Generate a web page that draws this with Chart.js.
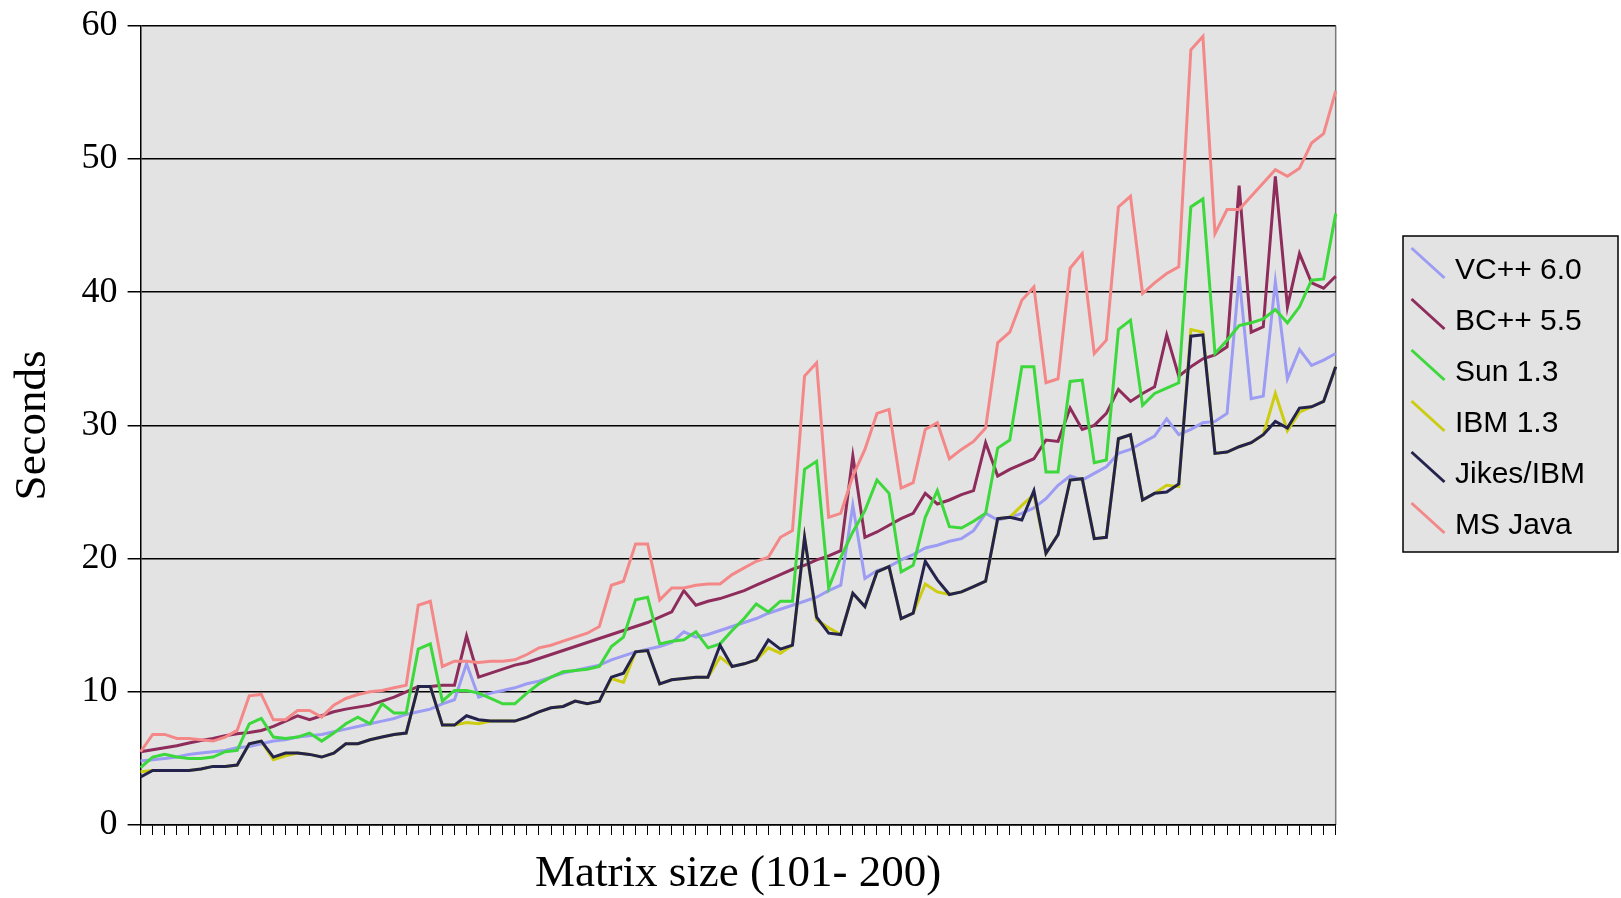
<!DOCTYPE html>
<html>
<head>
<meta charset="utf-8">
<script src="https://cdn.jsdelivr.net/npm/chart.js@4.4.1/dist/chart.umd.min.js"></script>
<style>
html,body{margin:0;padding:0;background:#ffffff;}
#wrap{position:relative;width:1621px;height:898px;}
</style>
</head>
<body>
<div id="wrap"><canvas id="c"></canvas></div>
<script>
// ---- categories (matrix size) ----
const matrixSizes = [101,102,103,104,105,106,107,108,109,110,111,112,113,114,115,116,117,118,119,120,
  121,122,123,124,125,126,127,128,129,130,131,132,133,134,135,136,137,138,139,140,
  141,142,143,144,145,146,147,148,149,150,151,152,153,154,155,156,157,158,159,160,
  161,162,163,164,165,166,167,168,169,170,171,172,173,174,175,176,177,178,179,180,
  181,182,183,184,185,186,187,188,189,190,191,192,193,194,195,196,197,198,199,200];

// ---- series values (seconds) ----
const vcpp60 = [4.8,4.9,5.0,5.1,5.3,5.4,5.5,5.6,5.8,5.9,6.1,6.3,6.4,6.6,6.7,6.8,7.0,7.2,7.4,7.6,7.8,8.0,8.3,8.5,8.7,9.1,
  9.4,12.1,9.6,9.9,10.1,10.3,10.6,10.8,11.1,11.4,11.6,11.8,12.0,12.4,12.7,13.0,13.2,13.4,13.7,14.5,14.1,14.3,14.6,14.9,15.2,15.5,15.9,16.2,
  16.5,16.8,17.1,17.6,18.0,24.0,18.5,19.1,19.4,19.9,20.3,20.8,21.0,21.3,21.5,22.1,23.4,22.9,23.1,23.4,23.8,24.5,25.5,26.2,
  25.9,26.4,26.9,27.9,28.2,28.7,29.2,30.5,29.3,29.7,30.2,30.3,30.9,41.2,32.0,32.2,40.8,33.5,35.7,34.5,34.9,35.4];
const bcpp55 = [5.5,5.65,5.8,5.95,6.15,6.35,6.5,6.7,6.85,6.95,7.1,7.4,7.8,8.2,7.9,8.2,8.5,8.7,8.85,9.0,9.3,9.6,10.0,10.4,10.4,10.5,
  10.5,14.2,11.1,11.4,11.7,12.0,12.2,12.5,12.8,13.1,13.4,13.7,14.0,14.3,14.6,14.9,15.2,15.6,16.0,17.6,16.5,16.8,17.0,17.3,17.6,18.0,18.4,18.8,
  19.2,19.5,19.9,20.2,20.6,27.7,21.6,22.0,22.5,23.0,23.4,24.9,24.1,24.4,24.8,25.1,28.7,26.2,26.7,27.1,27.5,28.9,28.8,31.3,
  29.7,30.0,30.9,32.7,31.8,32.4,32.9,36.8,33.7,34.4,35.0,35.3,35.9,48.0,37.0,37.4,48.7,38.9,42.9,40.7,40.3,41.2];
const sun13 = [4.3,5.1,5.3,5.1,5.0,5.0,5.1,5.5,5.6,7.6,8.0,6.6,6.5,6.6,6.9,6.3,6.9,7.6,8.1,7.6,9.1,8.4,8.4,13.2,13.6,9.3,
  10.1,10.1,9.9,9.5,9.1,9.1,9.9,10.6,11.1,11.5,11.6,11.7,11.9,13.4,14.1,16.9,17.1,13.6,13.8,13.9,14.5,13.3,13.6,14.6,15.5,16.6,16.0,16.8,
  16.8,26.7,27.3,17.8,20.1,22.0,23.6,25.9,24.9,19.0,19.5,23.1,25.1,22.4,22.3,22.8,23.4,28.3,28.9,34.4,34.4,26.5,26.5,33.3,
  33.4,27.2,27.4,37.2,37.9,31.5,32.4,32.8,33.2,46.4,47.0,35.4,36.4,37.5,37.7,38.0,38.7,37.7,38.9,40.9,41.0,45.9];
const ibm13 = [4.0,4.1,4.1,4.1,4.1,4.2,4.4,4.4,4.5,6.1,6.3,4.9,5.2,5.4,5.3,5.1,5.4,6.1,6.1,6.4,6.6,6.8,6.9,10.4,10.4,7.5,
  7.5,7.7,7.6,7.8,7.8,7.8,8.1,8.5,8.8,8.9,9.3,9.1,9.3,11.0,10.7,13.0,13.1,10.6,10.9,11.0,11.1,11.1,12.6,11.9,12.1,12.4,13.3,12.9,
  13.5,21.6,15.4,14.8,14.3,17.4,16.4,19.0,19.4,15.5,15.9,18.1,17.5,17.3,17.5,17.9,18.3,23.0,23.1,24.0,24.8,20.4,21.8,25.9,
  26.0,21.5,21.6,29.0,29.3,24.4,24.9,25.5,25.4,37.2,37.0,27.9,28.0,28.4,28.7,29.3,32.4,29.6,31.0,31.4,31.8,34.4];
const jikesIbm = [3.6,4.1,4.1,4.1,4.1,4.2,4.4,4.4,4.5,6.1,6.3,5.1,5.4,5.4,5.3,5.1,5.4,6.1,6.1,6.4,6.6,6.8,6.9,10.4,10.4,7.5,
  7.5,8.2,7.9,7.8,7.8,7.8,8.1,8.5,8.8,8.9,9.3,9.1,9.3,11.1,11.4,13.0,13.1,10.6,10.9,11.0,11.1,11.1,13.5,11.9,12.1,12.4,13.9,13.2,
  13.5,21.6,15.6,14.4,14.3,17.4,16.4,19.0,19.4,15.5,15.9,19.8,18.4,17.3,17.5,17.9,18.3,23.0,23.1,22.9,25.1,20.4,21.8,25.9,
  26.0,21.5,21.6,29.0,29.3,24.4,24.9,25.0,25.6,36.7,36.8,27.9,28.0,28.4,28.7,29.3,30.3,29.8,31.3,31.4,31.8,34.4];
const msJava = [5.5,6.8,6.8,6.5,6.5,6.4,6.3,6.6,7.1,9.7,9.8,7.9,7.9,8.6,8.6,8.1,9.0,9.5,9.8,10.0,10.1,10.3,10.5,16.5,16.8,11.9,
  12.3,12.3,12.2,12.3,12.3,12.4,12.8,13.3,13.5,13.8,14.1,14.4,14.9,18.0,18.3,21.1,21.1,16.9,17.8,17.8,18.0,18.1,18.1,18.8,19.3,19.8,20.1,21.6,
  22.1,33.7,34.7,23.1,23.4,26.2,28.2,30.9,31.2,25.3,25.7,29.7,30.2,27.5,28.2,28.8,29.8,36.2,37.0,39.4,40.4,33.2,33.5,41.8,
  42.9,35.4,36.4,46.4,47.2,39.9,40.7,41.4,41.9,58.2,59.2,44.4,46.2,46.2,47.2,48.2,49.2,48.7,49.3,51.2,51.9,55.1];

const seriesNames = ['VC++ 6.0','BC++ 5.5','Sun 1.3','IBM 1.3','Jikes/IBM','MS Java'];
const yTickValues = [0,10,20,30,40,50,60];
const xTitle = 'Matrix size (101- 200)';
const yTitle = 'Seconds';

// ---- styling ----
const seriesData = [vcpp60, bcpp55, sun13, ibm13, jikesIbm, msJava];
const seriesColors = ['#9c9cf4','#8e2c5c','#3cd83c','#cccc10','#23234d','#f48888'];
const PLOT_BG = '#e3e3e3';

function legendSwatch(color){
  const c = document.createElement('canvas');
  c.width = 60; c.height = 60;
  const g = c.getContext('2d');
  g.strokeStyle = color; g.lineWidth = 3;
  g.beginPath(); g.moveTo(19.5, 7); g.lineTo(52.5, 37); g.stroke();
  return c;
}

const bgPlugin = {
  id: 'bgPlugin',
  beforeDraw(chart){
    const {ctx, chartArea: a} = chart;
    ctx.save();
    ctx.fillStyle = PLOT_BG;
    ctx.fillRect(a.left, a.top, a.right - a.left, a.bottom - a.top);
    ctx.strokeStyle = '#7a7a7a'; ctx.lineWidth = 1.5;
    ctx.beginPath(); ctx.moveTo(a.right, a.top); ctx.lineTo(a.right, a.bottom); ctx.stroke();
    ctx.fillStyle = PLOT_BG;
    ctx.fillRect(1403, 236, 215, 316);
    ctx.strokeStyle = '#000'; ctx.lineWidth = 1.5;
    ctx.strokeRect(1403, 236, 215, 316);
    ctx.restore();
  }
};
const legendPlacer = {
  id: 'legendPlacer',
  afterLayout(chart){
    const lg = chart.legend;
    if (!lg) return;
    lg.left = 1383; lg.top = 235; lg.right = 1621; lg.bottom = 890;
  }
};

Chart.defaults.font.family = 'Liberation Sans';
Chart.defaults.color = '#000';

new Chart(document.getElementById('c'), {
  type: 'line',
  data: {
    labels: matrixSizes,
    datasets: seriesNames.map((name, i) => ({
      label: name,
      data: seriesData[i],
      borderColor: seriesColors[i],
      backgroundColor: seriesColors[i],
      borderWidth: 3,
      pointRadius: 0,
      pointHoverRadius: 0,
      pointStyle: legendSwatch(seriesColors[i]),
      tension: 0,
      fill: false,
      order: seriesNames.length - i
    }))
  },
  options: {
    responsive: true,
    maintainAspectRatio: false,
    animation: false,
    events: [],
    layout: { padding: { left: 0, top: 25.8, right: 285.3, bottom: 0 } },
    plugins: {
      tooltip: { enabled: false },
      legend: {
        position: 'chartArea',
        align: 'start',
        labels: {
          usePointStyle: true,
          pointStyleWidth: 36,
          boxHeight: 30,
          padding: 21,
          color: '#000',
          font: { family: 'Liberation Sans', size: 30 },
          sort: (a, b) => a.datasetIndex - b.datasetIndex
        }
      }
    },
    scales: {
      x: {
        type: 'category',
        offset: false,
        grid: { display: true, drawOnChartArea: false, drawTicks: true, tickLength: 10, color: '#000', lineWidth: 1 },
        border: { display: true, color: '#000', width: 1.5 },
        ticks: { display: false, autoSkip: false },
        title: { display: true, text: xTitle, color: '#000',
          font: { family: 'Liberation Serif', size: 45, lineHeight: 1 }, padding: { top: 0, bottom: 1 } },
        afterFit(s){ s.height = 73; s.paddingLeft = 0; s.paddingRight = 0; }
      },
      y: {
        min: yTickValues[0], max: yTickValues[yTickValues.length - 1],
        afterBuildTicks(s){ s.ticks = yTickValues.map(v => ({ value: v })); },
        ticks: { color: '#000', padding: 10, font: { family: 'Liberation Serif', size: 36 } },
        grid: { color: '#000', lineWidth: 1.5, tickLength: 13, drawTicks: true },
        border: { display: true, color: '#000', width: 1.5 },
        title: { display: true, text: yTitle, color: '#000',
          font: { family: 'Liberation Serif', size: 45, lineHeight: 1 }, padding: { top: 11, bottom: 0 } },
        afterFit(s){ s.width = 140.6; s.paddingTop = 0; s.paddingBottom = 0; }
      }
    }
  },
  plugins: [bgPlugin, legendPlacer]
});
</script>
</body>
</html>
